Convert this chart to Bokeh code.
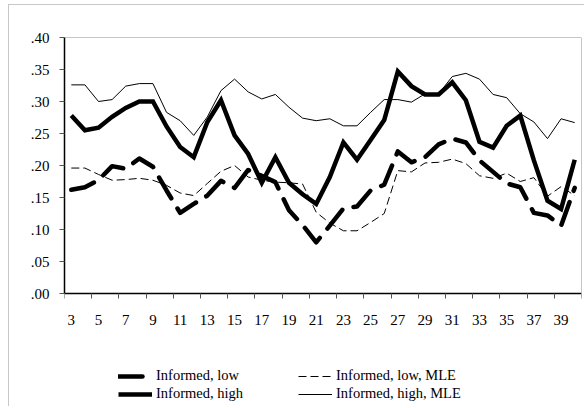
from bokeh.plotting import figure
from bokeh.models import FixedTicker, Legend, LegendItem, Range1d, LinearAxis
from bokeh.embed import file_html
from bokeh.resources import INLINE

rounds = list(range(3, 41))

informed_low = [.162, .166, .177, .199, .195, .211, .198, .161, .126, .140,
                .153, .176, .165, .193, .184, .174, .130, .107, .080, .106,
                .133, .136, .161, .170, .222, .205, .213, .233, .242, .236,
                .208, .190, .172, .166, .126, .122, .106, .165]

informed_low_mle = [.196, .196, .186, .177, .178, .180, .177, .169, .157, .153,
                    .172, .191, .200, .182, .177, .174, .173, .171, .127, .110,
                    .098, .098, .111, .125, .192, .190, .204, .205, .210, .203,
                    .184, .180, .188, .175, .181, .152, .167, .153]

informed_high = [.278, .255, .259, .276, .290, .300, .300, .261, .229, .213,
                 .268, .302, .247, .218, .173, .213, .173, .155, .140, .182,
                 .236, .209, .240, .271, .347, .324, .311, .311, .330, .302,
                 .237, .228, .262, .278, .208, .145, .132, .209]

informed_high_mle = [.326, .326, .300, .303, .324, .328, .328, .283, .270, .247,
                     .276, .317, .335, .315, .304, .311, .291, .274, .270, .273,
                     .262, .262, .283, .303, .303, .299, .312, .312, .339, .344,
                     .335, .311, .306, .281, .268, .242, .273, .267]

x_tick_values = list(range(3, 40, 2))
x_tick_labels = [str(v) for v in x_tick_values]
y_tick_values = [0.0, 0.05, 0.10, 0.15, 0.20, 0.25, 0.30, 0.35, 0.40]
y_tick_labels = [".00", ".05", ".10", ".15", ".20", ".25", ".30", ".35", ".40"]

series_labels = ["Informed, low", "Informed, low, MLE",
                 "Informed, high", "Informed, high, MLE"]

FONT = "Liberation Serif"
X_MIN, X_MAX = 2.5, 40.5
Y_MIN, Y_MAX = 0.0, 0.4

# frame extends below the value axis to hold the legend (640 px per unit)
p = figure(width=576, height=402, output_backend="svg", toolbar_location=None,
           x_range=Range1d(X_MIN, X_MAX), y_range=Range1d(-0.175, Y_MAX),
           min_border_left=55, min_border_right=4, min_border_top=32,
           min_border_bottom=2)
p.styles = {"margin-left": "8px", "margin-top": "4px",
            "border-left": "1px solid #c8c8c8",
            "border-top": "1px solid #c8c8c8"}
p.grid.visible = False
p.outline_line_color = None
p.background_fill_color = "white"
p.border_fill_color = "white"

# x axis at y = 0
xa = p.xaxis[0]
xa.fixed_location = Y_MIN
xa.bounds = (X_MIN, X_MAX)
xa.ticker = FixedTicker(ticks=x_tick_values,
                        minor_ticks=[v - 0.5 for v in x_tick_values] + [X_MAX])
xa.major_label_overrides = {v: s for v, s in zip(x_tick_values, x_tick_labels)}
xa.major_tick_line_color = None
xa.major_tick_out = 0
xa.major_tick_in = 0
xa.minor_tick_out = 5
xa.minor_tick_in = 0
xa.minor_tick_line_color = "#555555"
xa.axis_line_color = "black"
xa.axis_line_width = 1.5
xa.major_label_standoff = 16
xa.major_label_text_font = FONT
xa.major_label_text_font_size = "15px"
xa.major_label_text_color = "black"

# y axis on the left edge, limited to 0 .. 0.4
ya = p.yaxis[0]
ya.bounds = (Y_MIN, Y_MAX)
ya.ticker = FixedTicker(ticks=y_tick_values, minor_ticks=[])
ya.major_label_overrides = {v: s for v, s in zip(y_tick_values, y_tick_labels)}
ya.major_tick_out = 5
ya.major_tick_in = 0
ya.major_tick_line_color = "#555555"
ya.axis_line_color = "black"
ya.axis_line_width = 1.5
ya.major_label_standoff = 10
ya.major_label_text_font = FONT
ya.major_label_text_font_size = "15px"
ya.major_label_text_color = "black"

# gray plot-area border on top and right
top_ax = LinearAxis(fixed_location=Y_MAX, bounds=(X_MIN, X_MAX),
                    ticker=FixedTicker(ticks=[], minor_ticks=[]),
                    axis_line_color="#8c8c8c", axis_line_width=1,
                    major_tick_line_color=None, minor_tick_line_color=None)
right_ax = LinearAxis(fixed_location=X_MAX, bounds=(Y_MIN, Y_MAX),
                      ticker=FixedTicker(ticks=[], minor_ticks=[]),
                      axis_line_color="#8c8c8c", axis_line_width=1,
                      major_tick_line_color=None, minor_tick_line_color=None)
p.add_layout(top_ax, "above")
p.add_layout(right_ax, "right")

r_low = p.line(rounds, informed_low, line_color="black", line_width=4.5,
               line_dash="24 12", line_cap="round", line_join="round")
r_low_mle = p.line(rounds, informed_low_mle, line_color="black", line_width=1,
                   line_dash="8 4")
r_high = p.line(rounds, informed_high, line_color="black", line_width=4.5,
                line_join="miter")
r_high_mle = p.line(rounds, informed_high_mle, line_color="black", line_width=1,
                    line_join="miter")

renderers = [r_low, r_low_mle, r_high, r_high_mle]
locations = [(54, 21), (234, 21), (54, 3), (234, 3)]
for lab, rend, loc in zip(series_labels, renderers, locations):
    lg = Legend(items=[LegendItem(label=lab, renderers=[rend])], location=loc,
                glyph_width=34, glyph_height=16, label_height=16,
                label_standoff=4, padding=0, margin=0, spacing=0,
                border_line_color=None, background_fill_alpha=0,
                label_text_font=FONT, label_text_font_size="14.5px",
                label_text_color="black")
    p.add_layout(lg)

open("out.html", "w").write(file_html(p, INLINE))
